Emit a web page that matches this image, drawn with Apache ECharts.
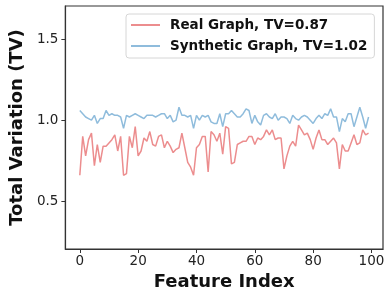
<!DOCTYPE html>
<html>
<head>
<meta charset="utf-8">
<script src="https://cdn.jsdelivr.net/npm/echarts@6/dist/echarts.min.js"></script>
<style>
  html, body { margin: 0; padding: 0; background: #fff; }
  #chart { width: 391px; height: 298px; }
</style>
</head>
<body>
<div id="chart"></div>
<script>
// values (index 0..99)
const realTV = [
  0.66, 0.90, 0.78, 0.88, 0.92, 0.72, 0.85, 0.74, 0.84, 0.84,
  0.86, 0.88, 0.91, 0.81, 0.90, 0.66, 0.67, 0.90, 0.83, 0.96,
  0.78, 0.81, 0.89, 0.87, 0.93, 0.85, 0.84, 0.90, 0.91, 0.83,
  0.87, 0.84, 0.80, 0.82, 0.83, 0.92, 0.83, 0.74, 0.71, 0.66,
  0.83, 0.85, 0.90, 0.90, 0.68, 0.93, 0.91, 0.87, 0.92, 0.79,
  0.96, 0.95, 0.73, 0.74, 0.85, 0.86, 0.87, 0.87, 0.90, 0.90,
  0.85, 0.89, 0.88, 0.90, 0.94, 0.91, 0.94, 0.88, 0.89, 0.89,
  0.70, 0.78, 0.84, 0.87, 0.84, 0.97, 0.94, 0.91, 0.92, 0.88,
  0.82, 0.89, 0.94, 0.88, 0.88, 0.85, 0.87, 0.89, 0.86, 0.70,
  0.85, 0.81, 0.81, 0.86, 0.91, 0.85, 0.86, 0.94, 0.91, 0.92
];
const synthTV = [
  1.06, 1.04, 1.02, 1.01, 1.00, 1.03, 0.98, 1.01, 1.01, 1.06,
  1.03, 1.04, 1.03, 1.03, 1.02, 0.95, 1.03, 1.02, 1.03, 1.04,
  1.03, 1.02, 1.01, 1.03, 1.03, 1.03, 1.02, 1.03, 1.04, 1.04,
  1.01, 1.03, 0.99, 1.00, 1.08, 1.03, 1.03, 1.02, 1.03, 0.95,
  1.03, 1.00, 1.03, 1.02, 1.03, 0.99, 0.98, 0.98, 1.04, 0.96,
  1.04, 1.04, 1.06, 1.04, 1.02, 1.02, 1.04, 1.07, 1.06, 0.98,
  1.03, 0.99, 0.97, 1.03, 1.04, 1.02, 1.01, 1.04, 1.00, 1.02,
  1.02, 1.01, 0.98, 1.03, 1.01, 1.00, 1.02, 1.03, 1.02, 1.00,
  0.98, 1.01, 1.03, 1.01, 1.04, 1.03, 1.07, 1.02, 1.02, 0.93,
  1.01, 0.99, 1.04, 1.04, 0.96, 1.02, 1.08, 1.02, 0.95, 1.02
];
const seriesNames = ['Real Graph, TV=0.87', 'Synthetic Graph, TV=1.02'];
const xTicks = [0, 20, 40, 60, 80, 100];
const yTicks = [0.5, 1.0, 1.5];

const toPairs = arr => arr.map((v, i) => [i, v]);

const chart = echarts.init(document.getElementById('chart'));
const axisCol = '#333';
const font = 'DejaVu Sans';

chart.setOption({
  animation: false,
  textStyle: { fontFamily: font },
  grid: {
    left: 56, right: 8, top: 6, bottom: 49,
    show: true, borderColor: axisCol, borderWidth: 1.2
  },
  legend: {
    orient: 'vertical',
    left: 126, top: 14,
    padding: [4, 7, 5, 5],
    itemGap: 7,
    itemWidth: 29, itemHeight: 2,
    icon: 'rect',
    borderColor: '#d6d6d6', borderWidth: 1, borderRadius: 3,
    backgroundColor: 'rgba(255,255,255,0.8)',
    textStyle: {
      fontFamily: font, fontWeight: 'bold', fontSize: 13.5,
      color: '#111', padding: [0, 0, 0, 5], lineHeight: 14
    },
    data: seriesNames
  },
  xAxis: {
    type: 'value',
    min: -4.95, max: 103.95,
    name: 'Feature Index',
    nameLocation: 'middle',
    nameGap: 22,
    nameTextStyle: { fontFamily: font, fontWeight: 'bold', fontSize: 18, color: '#111' },
    splitLine: { show: false },
    axisLine: { show: true, onZero: false, lineStyle: { color: axisCol, width: 1.2 } },
    axisTick: { show: true, length: 4, customValues: xTicks, lineStyle: { color: axisCol } },
    axisLabel: { customValues: xTicks, fontSize: 13.5, color: '#222', margin: 5, fontFamily: font }
  },
  yAxis: {
    type: 'value',
    min: 0.205, max: 1.705,
    name: 'Total Variation (TV)',
    nameLocation: 'middle',
    nameGap: 33,
    nameTextStyle: { fontFamily: font, fontWeight: 'bold', fontSize: 18, color: '#111' },
    splitLine: { show: false },
    axisLine: { show: true, onZero: false, lineStyle: { color: axisCol, width: 1.2 } },
    axisTick: { show: true, length: 4, customValues: yTicks, lineStyle: { color: axisCol } },
    axisLabel: {
      customValues: yTicks, fontSize: 13.5, color: '#222', margin: 7, fontFamily: font,
      formatter: v => v.toFixed(1)
    }
  },
  series: [
    {
      name: seriesNames[0],
      type: 'line',
      data: toPairs(realTV),
      symbol: 'none',
      color: '#ec8d8e',
      lineStyle: { color: '#ec8d8e', width: 1.5 }
    },
    {
      name: seriesNames[1],
      type: 'line',
      data: toPairs(synthTV),
      symbol: 'none',
      color: '#8fbcdc',
      lineStyle: { color: '#8fbcdc', width: 1.5 }
    }
  ]
});
</script>
</body>
</html>
